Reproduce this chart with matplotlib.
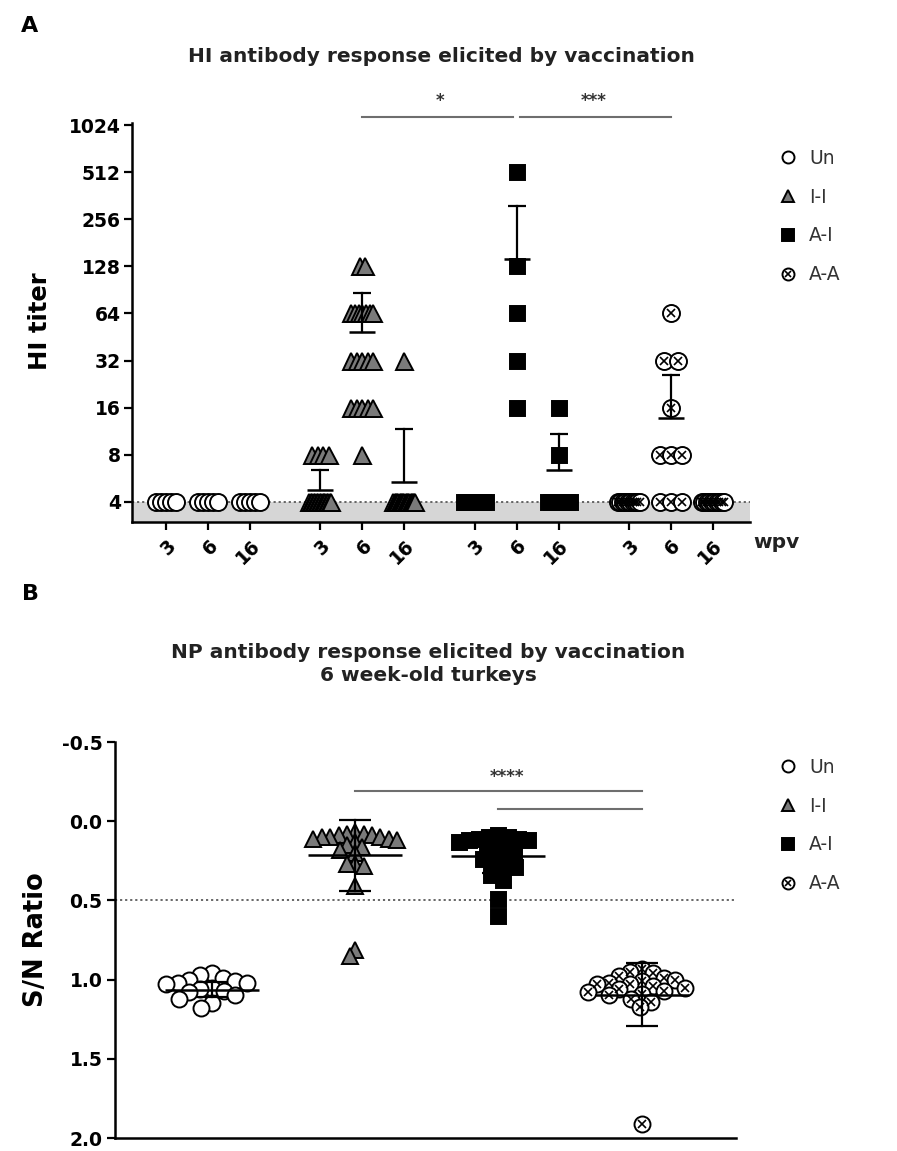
import numpy as np
import matplotlib
matplotlib.use("Agg")
import matplotlib.pyplot as plt
from matplotlib.lines import Line2D
from matplotlib.ticker import NullLocator
from matplotlib.legend_handler import HandlerTuple

plt.rcParams['font.family'] = ['DejaVu Sans']

# ------------------------------------------------------------------ data
groups = ["Un", "I-I", "A-I", "A-A"]
wpv_labels = ["3", "6", "16"]
hi_ticks = [4, 8, 16, 32, 64, 128, 256, 512, 1024]

# Panel A: HI titers per group and weeks post vaccination (3, 6, 16)
hi_un_3 = [4, 4, 4, 4, 4]
hi_un_6 = [4, 4, 4, 4, 4]
hi_un_16 = [4, 4, 4, 4, 4]
hi_ii_3 = [8, 8, 8, 8, 4, 4, 4, 4, 4, 4, 4, 4, 4, 4, 4, 4, 4, 4, 4, 4]
hi_ii_6 = [128, 128, 64, 64, 64, 64, 64, 64, 64, 32, 32, 32, 32, 32,
           16, 16, 16, 16, 16, 8]
hi_ii_16 = [32, 4, 4, 4, 4, 4, 4, 4, 4, 4, 4, 4, 4, 4, 4, 4, 4, 4, 4, 4]
hi_ai_3 = [4, 4, 4, 4, 4, 4, 4, 4, 4, 4]
hi_ai_6 = [512, 128, 64, 32, 16]
hi_ai_16 = [16, 8, 4, 4, 4, 4, 4, 4, 4, 4]
hi_aa_3 = [4, 4, 4, 4, 4, 4, 4, 4, 4, 4]
hi_aa_6 = [64, 32, 32, 16, 8, 8, 8, 4, 4, 4]
hi_aa_16 = [4, 4, 4, 4, 4, 4, 4, 4, 4, 4]

# mean and SD (only the upper arm is drawn)
hi_mean = [4, 4, 4, 4.8, 49, 5.4, 4, 142, 6.4, 4, 13.8, 4]
hi_sd = [0, 0, 0, 1.6, 38, 6.3, 0, 169, 4.5, 0, 12, 0]

hi_detection_limit = 4

# significance bars panel A: (group index, time index) pairs
sig_a = [((1, 1), (2, 1), "*"), ((2, 1), (3, 1), "***")]

# Panel B: NP S/N ratios at 6 week-old turkeys
np_un = [0.96, 0.97, 0.99, 1.00, 1.01, 1.02, 1.02, 1.03, 1.05, 1.06,
         1.07, 1.08, 1.10, 1.12, 1.15, 1.18]
np_ii = [0.07, 0.08, 0.08, 0.09, 0.09, 0.10, 0.10, 0.10, 0.11, 0.11,
         0.12, 0.13, 0.15, 0.16, 0.18, 0.20, 0.27, 0.27, 0.28, 0.41,
         0.81, 0.85]
np_ai = [0.09, 0.10, 0.10, 0.11, 0.11, 0.12, 0.12, 0.13, 0.15, 0.17,
         0.18, 0.20, 0.22, 0.24, 0.25, 0.27, 0.29, 0.31, 0.34, 0.37,
         0.49, 0.60]
np_aa = [0.93, 0.95, 0.96, 0.98, 0.99, 1.00, 1.01, 1.02, 1.03, 1.03,
         1.04, 1.05, 1.06, 1.07, 1.08, 1.09, 1.10, 1.12, 1.14, 1.17, 1.91]
np_mean = [1.063, 0.215, 0.22, 1.095]
np_sd = [0.05, 0.225, 0.11, 0.20]
np_ticks = [-0.5, 0.0, 0.5, 1.0, 1.5, 2.0]
np_cutoff = 0.5
sig_b = [(1, 3, "****", -0.19), (2, 3, "", -0.075)]

# ------------------------------------------------------------------ style
W, H = 897, 1151
DPI = 100
fig = plt.figure(figsize=(W / DPI, H / DPI), dpi=DPI)


def pt(px):
    return px * 72.0 / DPI


styles = {
    "Un": dict(marker="o", mfc="white", mec="black"),
    "I-I": dict(marker="^", mfc="#7a7a7a", mec="black"),
    "A-I": dict(marker="s", mfc="black", mec="black"),
    "A-A": dict(marker="o", mfc="white", mec="black"),
}
ms_a = {"Un": pt(17), "I-I": pt(17), "A-I": pt(15), "A-A": pt(17)}
ms_b = {"Un": pt(16), "I-I": pt(16), "A-I": pt(15), "A-A": pt(16)}
step_a = {"Un": 5.0, "I-I": 5.5, "A-I": 5.0, "A-A": 14.0}


def draw_points(ax, x, y, g, ms, z=3):
    st = styles[g]
    ax.plot(x, y, ls="none", marker=st["marker"], ms=ms, mfc=st["mfc"],
            mec=st["mec"], mew=1.4, zorder=z, clip_on=False)
    if g == "A-A":
        ax.plot(x, y, ls="none", marker="x", ms=ms * 0.5, mec="black",
                mew=1.2, zorder=z, clip_on=False)


def style_axis(ax):
    for s in ("top", "right"):
        ax.spines[s].set_visible(False)
    for s in ("left", "bottom"):
        ax.spines[s].set_linewidth(1.8)
    ax.tick_params(axis="both", which="major", direction="out", length=6,
                   width=1.6, labelsize=13.5, pad=2)
    for lab in ax.get_yticklabels() + ax.get_xticklabels():
        lab.set_fontweight("bold")


# ------------------------------------------------------------------ panel A
axA = fig.add_axes([132 / W, 1 - 522 / H, (750 - 132) / W, (522 - 123) / H])
axA.set_yscale("log", base=2)
ylo = hi_detection_limit / 2 ** (20 / 47)
axA.set_ylim(ylo, 1024 * 2 ** (2 / 47))
axA.set_xlim(-0.81, 13.88)
axA.set_yticks(hi_ticks)
axA.set_yticklabels([str(t) for t in hi_ticks])
axA.yaxis.set_minor_locator(NullLocator())

gap = 0.667
positions = [gi * (len(wpv_labels) + gap) + ti
             for gi in range(len(groups)) for ti in range(len(wpv_labels))]
axA.set_xticks(positions)
axA.set_xticklabels(wpv_labels * len(groups))
style_axis(axA)
for lab in axA.get_xticklabels():
    lab.set_rotation(45)
    lab.set_ha("right")
    lab.set_va("top")
    lab.set_rotation_mode("anchor")
axA.tick_params(axis="x", pad=4)

axA.axhspan(ylo, hi_detection_limit, color="#d6d6d6", zorder=0, lw=0)
axA.axhline(hi_detection_limit, color="#5a5a5a", ls=(0, (1.2, 1.6)), lw=1.3,
            zorder=1)

px_per_unit_a = (750 - 132) / (13.88 + 0.81)


def spread_offsets(vals, step_px, max_half_px=11.0):
    vals = np.asarray(vals, float)
    off = np.zeros(len(vals))
    for v in np.unique(vals):
        idx = np.where(vals == v)[0]
        n = len(idx)
        if n > 1:
            step = min(step_px, 2 * max_half_px / (n - 1))
            off[idx] = (np.arange(n) - (n - 1) / 2) * step
    return off / px_per_unit_a


hi_series = [hi_un_3, hi_un_6, hi_un_16, hi_ii_3, hi_ii_6, hi_ii_16,
             hi_ai_3, hi_ai_6, hi_ai_16, hi_aa_3, hi_aa_6, hi_aa_16]
mean_hw = 13 / px_per_unit_a
cap_hw = 9 / px_per_unit_a
for k, vals in enumerate(hi_series):
    g = groups[k // 3]
    x0 = positions[k]
    off = spread_offsets(vals, step_a[g])
    order = np.argsort(off)
    xs = x0 + off[order]
    ys = np.asarray(vals, float)[order]
    axA.plot([x0 - mean_hw, x0 + mean_hw], [hi_mean[k]] * 2, color="black",
             lw=1.8, zorder=2, solid_capstyle="butt")
    draw_points(axA, xs, ys, g, ms_a[g])
    if hi_sd[k] > 0:
        top = hi_mean[k] + hi_sd[k]
        axA.plot([x0, x0], [hi_mean[k], top], color="black", lw=1.6, zorder=4)
        axA.plot([x0 - cap_hw, x0 + cap_hw], [top, top], color="black",
                 lw=1.6, zorder=4, solid_capstyle="butt")

# significance lines (above the axis)
sig_y_a = 1024 * 2 ** ((125 - 117) / 47)
txt_y_a = 1024 * 2 ** ((125 - 110) / 47)
shrink = 0.08
for (ga, ta), (gb, tb), lab in sig_a:
    xa = positions[ga * 3 + ta]
    xb = positions[gb * 3 + tb]
    x1 = xa + (shrink if ga == 2 else 0)
    x2 = xb - (shrink if gb == 2 else 0)
    axA.plot([x1, x2], [sig_y_a] * 2, color="#6e6e6e", lw=1.5, clip_on=False)
    axA.text((xa + xb) / 2, txt_y_a, lab, ha="center", va="bottom",
             fontsize=12, fontweight="bold", color="#333333")

axA.set_ylabel("HI titer", fontsize=17.5, fontweight="bold", ha="center",
               va="center")
axA.yaxis.set_label_coords((40 - 132) / (750 - 132), (522 - 321) / (522 - 123))
fig.text(441 / W, 1 - 57 / H, "HI antibody response elicited by vaccination",
         ha="center", va="center", fontsize=14.5, fontweight="bold",
         color="#222222")
fig.text(776 / W, 1 - 543 / H, "wpv", ha="center", va="center",
         fontsize=14.5, fontweight="bold", color="#222222")
fig.text(30 / W, 1 - 26 / H, "A", ha="center", va="center", fontsize=16,
         fontweight="bold")


def legend_handles(ms):
    hs = []
    for g in groups:
        st = styles[g]
        h = Line2D([], [], ls="none", marker=st["marker"], ms=ms,
                   mfc=st["mfc"], mec=st["mec"], mew=1.4)
        if g == "A-A":
            hx = Line2D([], [], ls="none", marker="x", ms=ms * 0.5, mec="black",
                        mew=1.2)
            h = (h, hx)
        hs.append(h)
    return hs


def add_legend(ax, left_px, top_px):
    leg = ax.legend(legend_handles(pt(12)), groups, loc="upper left",
                    bbox_to_anchor=(left_px / W, 1 - top_px / H),
                    bbox_transform=fig.transFigure, frameon=False,
                    fontsize=13.5, labelspacing=1.05, handlelength=1.0,
                    handletextpad=0.6, borderpad=0, borderaxespad=0,
                    handler_map={tuple: HandlerTuple(ndivide=1)})
    for t in leg.get_texts():
        t.set_color("#333333")
    return leg


add_legend(axA, 779, 149)

# ------------------------------------------------------------------ panel B
axB = fig.add_axes([115 / W, 1 - 1138 / H, (736 - 115) / W, (1138 - 742) / H])
axB.set_ylim(2.0, -0.5)
axB.set_xlim(-0.68, 3.66)
axB.set_yticks(np_ticks)
axB.set_yticklabels([f"{t:.1f}" for t in np_ticks])
axB.set_xticks([])
style_axis(axB)
axB.tick_params(axis="y", pad=3)
axB.axhline(np_cutoff, color="#5a5a5a", ls=(0, (1.2, 1.6)), lw=1.3, zorder=1)

fig.canvas.draw()
tr = axB.transData


def swarm(vals, x0, d_px):
    vals = np.asarray(vals, float)
    ypx = np.array([tr.transform((x0, v))[1] for v in vals])
    order = np.argsort(vals)
    xs = np.zeros(len(vals))
    placed = []
    for i in order:
        y = ypx[i]
        cands = [0.0]
        intervals = []
        for xj, yj in placed:
            dy = abs(y - yj)
            if dy < d_px:
                dx = np.sqrt(d_px ** 2 - dy ** 2)
                intervals.append((xj - dx, xj + dx))
                cands += [xj - dx, xj + dx]
        cands.sort(key=abs)
        for c in cands:
            if all(not (a + 1e-6 < c < b - 1e-6) for a, b in intervals):
                xs[i] = c
                break
        placed.append((xs[i], y))
    px_per_x = tr.transform((1, 0))[0] - tr.transform((0, 0))[0]
    return x0 + xs / px_per_x


np_series = [np_un, np_ii, np_ai, np_aa]
swarm_d = [12.0, 8.5, 10.0, 12.0]
px_per_x_b = (736 - 115) / (3.66 + 0.68)
mean_hw_b = 47 / px_per_x_b
cap_hw_b = 16 / px_per_x_b
for gi, vals in enumerate(np_series):
    g = groups[gi]
    xs = swarm(vals, gi, swarm_d[gi])
    draw_points(axB, xs, vals, g, ms_b[g])
    m, s = np_mean[gi], np_sd[gi]
    axB.plot([gi - mean_hw_b, gi + mean_hw_b], [m, m], color="black", lw=1.8,
             zorder=4, solid_capstyle="butt")
    axB.plot([gi, gi], [m - s, m + s], color="black", lw=1.6, zorder=4)
    for yy in (m - s, m + s):
        axB.plot([gi - cap_hw_b, gi + cap_hw_b], [yy, yy], color="black",
                 lw=1.6, zorder=4, solid_capstyle="butt")

for ga, gb, lab, yv in sig_b:
    axB.plot([ga, gb], [yv, yv], color="#6e6e6e", lw=1.5, clip_on=False)
    if lab:
        axB.text((ga + gb) / 2 + 0.06, yv - 0.03, lab, ha="center",
                 va="bottom", fontsize=12, fontweight="bold", color="#333333")

axB.set_ylabel("S/N Ratio", fontsize=18.5, fontweight="bold", ha="center",
               va="center")
axB.yaxis.set_label_coords((36 - 115) / (736 - 115), (1138 - 940) / (1138 - 742))
fig.text(428 / W, 1 - 664 / H,
         "NP antibody response elicited by vaccination\n6 week-old turkeys",
         ha="center", va="center", fontsize=14.5, fontweight="bold",
         color="#222222", linespacing=1.25)
fig.text(30 / W, 1 - 594 / H, "B", ha="center", va="center", fontsize=16,
         fontweight="bold")
add_legend(axB, 779, 758)

fig.savefig("out.png", dpi=DPI)
